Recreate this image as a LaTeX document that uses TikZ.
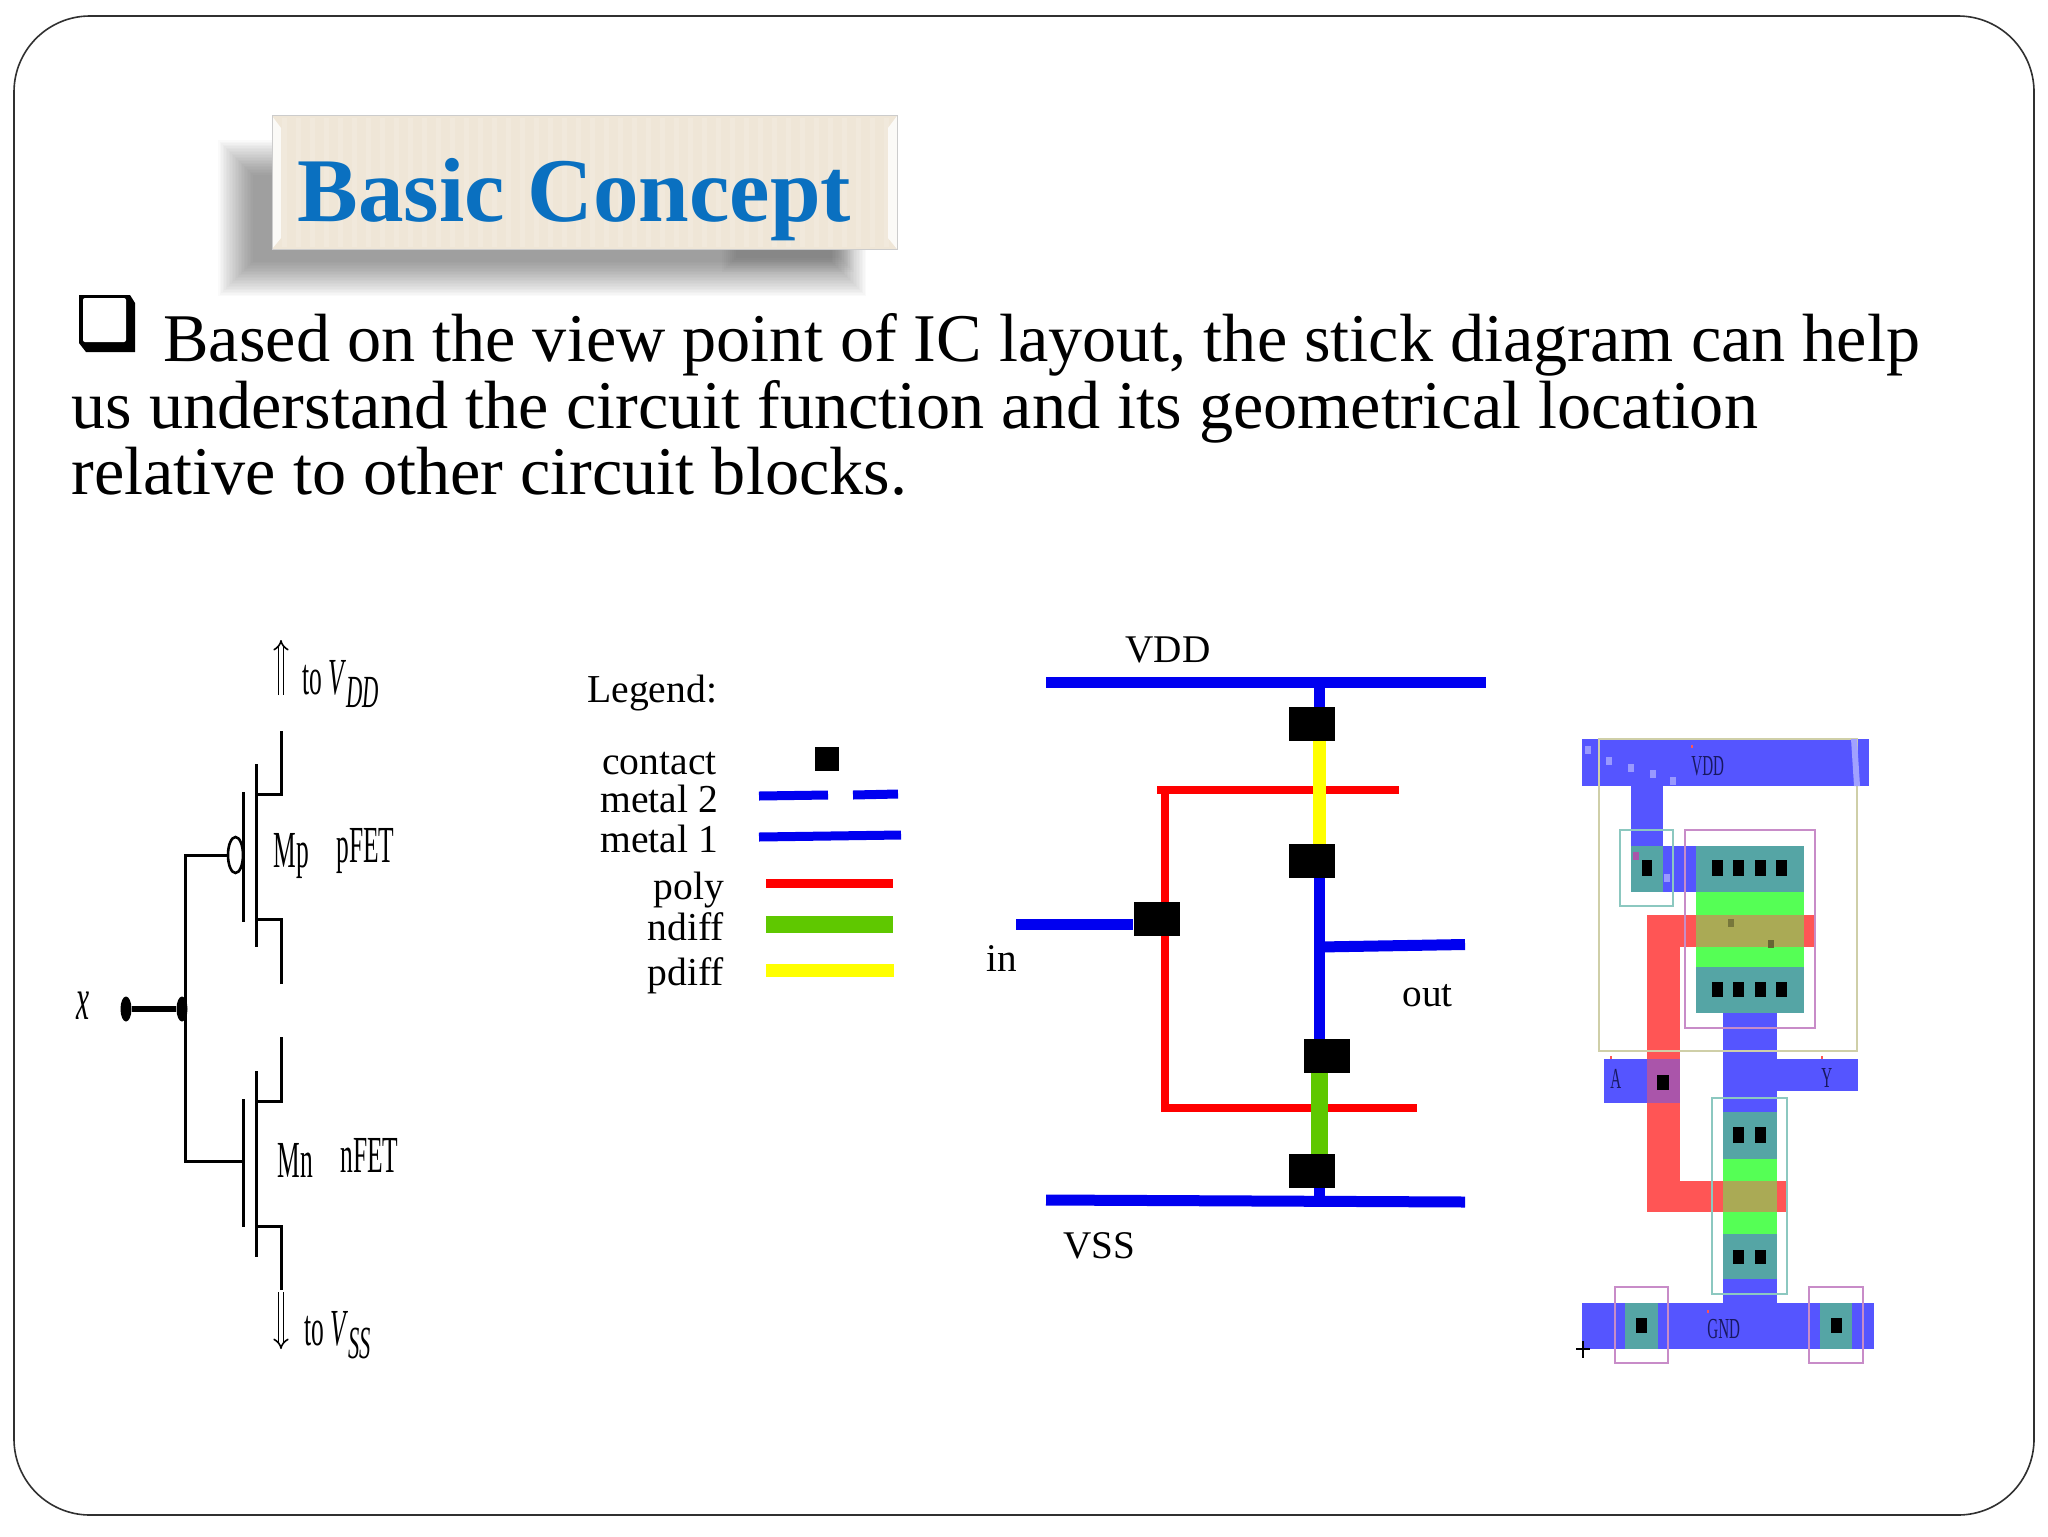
\documentclass[tikz,border=0pt]{standalone}
\usepackage{fontspec}
\setmainfont{Liberation Serif}
\newfontfamily\fetfont[FakeStretch=0.49]{Liberation Serif}
\newfontfamily\layfont[FakeStretch=0.52]{Liberation Serif}
\usetikzlibrary{arrows.meta,shapes.geometric}
\definecolor{framecol}{HTML}{303030}
\definecolor{titlecol}{HTML}{0A70C0}
\definecolor{boxcol}{HTML}{EFE6D7}
\definecolor{stickblue}{HTML}{0000F0}
\definecolor{stickred}{HTML}{FF0000}
\definecolor{stickgreen}{HTML}{5FC800}
\definecolor{stickyellow}{HTML}{FFFF00}
\definecolor{laymetal}{HTML}{5555FF}
\definecolor{laypoly}{HTML}{FF5555}
\definecolor{laydiff}{HTML}{55FF55}
\definecolor{laycut}{HTML}{55A5A5}
\definecolor{laygate}{HTML}{AAAA55}
\definecolor{laypin}{HTML}{AA55AA}
\definecolor{laywell}{HTML}{CFCFA8}
\definecolor{layteal}{HTML}{8CC8C0}
\definecolor{laypurple}{HTML}{C88CC8}
\definecolor{laytext}{HTML}{181860}
\tikzset{
	txt/.style={anchor=base west,inner sep=0pt,font=\fontsize{#1}{#1}\selectfont},
	fettxt/.style={anchor=base west,inner sep=0pt,font=\fontsize{26}{26}\selectfont\fetfont},
	laytxt/.style={anchor=base west,inner sep=0pt,text=laytext,font=\fontsize{14.5}{14.5}\selectfont\layfont},
	fetwire/.style={line width=1.5pt,black},
	fetdot/.style={ellipse,fill=black,inner sep=0pt,minimum width=5.5pt,minimum height=12.5pt},
	bubble/.style={ellipse,draw=black,fill=white,line width=1.3pt,inner sep=0pt,minimum width=7.5pt,minimum height=18pt},
	supply/.style={double,double distance=1.8pt,line width=.8pt,-{Implies}},
	metalline/.style={stickblue,line width=5.5pt},
	polyline/.style={stickred,line width=4.3pt},
	ndiffline/.style={stickgreen,line width=8.5pt},
	pdiffline/.style={stickyellow,line width=6.5pt},
	contactbox/.style={fill=black,inner sep=0pt,minimum width=23pt,minimum height=17pt},
	outline/.style={line width=.8pt},
}
\newcommand{\fetsub}[1]{\raisebox{-6.5pt}{\fontsize{23}{23}\selectfont\itshape #1}}
\begin{document}
\begin{tikzpicture}[x=0.5pt,y=-0.5pt]
	\useasboundingbox (0,0) rectangle (2048,1536);
	\draw[framecol,line width=.8pt,rounded corners=38pt] (14,16) rectangle (2034,1515);

	\foreach \i in {0,...,23}
		\fill[black,opacity=.019] ({218+1.5*\i},{140+1.5*\i}) rectangle ({866-1.5*\i},{296-1.5*\i});
	\foreach \i in {0,...,7}
		\fill[black,opacity=.018] ({722+2*\i},249) rectangle ({854-2*\i},{272-2*\i});
	\fill[boxcol] (272,116) rectangle (897,249);
	\foreach \i in {0,...,43}
		\fill[white,opacity=.14] ({282+14*\i},118) rectangle ({287+14*\i},247);
	\fill[white,opacity=.8] (272,116) -- (281,128) -- (281,238) -- (272,249) -- cycle;
	\fill[white,opacity=.8] (897,116) -- (888,128) -- (888,238) -- (897,249) -- cycle;
	\draw[black!20,line width=.5pt] (272,116) rectangle (897,249);
	\node[txt=45.5,text=titlecol,font=\fontsize{45.5}{45.5}\selectfont\bfseries] (title) at (297,221) {Basic Concept};

	\fill[black] (79,295) -- (130,295) -- (135,303) -- (135,352) -- (86,352) -- (79,343) -- cycle;
	\fill[white,rounded corners=1pt] (83,298) rectangle (126,342);
	\node[txt=34.12] (line1) at (163,361) {Based on the view point of IC layout, the stick diagram can help};
	\node[txt=34.12] (line2) at (71,428) {us understand the circuit function and its geometrical location};
	\node[txt=34.12] (line3) at (71,494) {relative to other circuit blocks.};

	\node[fettxt,font=\fontsize{30}{30}\selectfont\fetfont] (xlab) at (76,1019) {\itshape x};
	\node[fetdot] (xin) at (126,1009) {};
	\node[fetdot] (xjoin) at (182,1009) {};
	\node[bubble] (mpbub) at (235.5,855) {};
	\coordinate (mpgt) at (243,792);
	\coordinate (mpgb) at (243,922);
	\coordinate (mpct) at (256,764);
	\coordinate (mpcb) at (256,947);
	\coordinate (mpdt) at (281,731);
	\coordinate (mpdb) at (281,984);
	\coordinate (mpkt) at (281,794);
	\coordinate (mpkb) at (281,919);
	\coordinate (mngt) at (243,1099);
	\coordinate (mngb) at (243,1227);
	\coordinate (mngm) at (243,1161);
	\coordinate (mnct) at (256,1071);
	\coordinate (mncb) at (256,1257);
	\coordinate (mndt) at (281,1037);
	\coordinate (mndb) at (281,1290);
	\coordinate (mnkt) at (281,1101);
	\coordinate (mnkb) at (281,1226);
	\coordinate (gatebus) at (185,1009);
	\draw[fetwire,line width=2.6pt] (xin) -- (xjoin);
	\draw[fetwire] (mpbub.west) -| (gatebus) |- (mngm);
	\draw[fetwire] (mpgt) -- (mpgb);
	\draw[fetwire] (mpct) -- (mpcb);
	\draw[fetwire] (mpdt) -- (mpkt) -- (mpkt -| mpct);
	\draw[fetwire] (mpdb) -- (mpkb) -- (mpkb -| mpct);
	\draw[fetwire] (mngt) -- (mngb);
	\draw[fetwire] (mnct) -- (mncb);
	\draw[fetwire] (mndt) -- (mnkt) -- (mnkt -| mnct);
	\draw[fetwire] (mndb) -- (mnkb) -- (mnkb -| mnct);
	\coordinate (vddfrom) at (281,695);
	\coordinate (vddto) at (281,640);
	\coordinate (vssfrom) at (281,1292);
	\coordinate (vssto) at (281,1349);
	\draw[supply] (vddfrom) -- (vddto);
	\draw[supply] (vssfrom) -- (vssto);
	\node[fettxt] (tovdd) at (302,694) {to \textit{V}\fetsub{DD}};
	\node[fettxt] (tovss) at (304,1345) {to \textit{V}\fetsub{SS}};
	\node[fettxt] (mplab) at (273,867) {Mp};
	\node[fettxt] (pfetlab) at (336,862) {pFET};
	\node[fettxt] (mnlab) at (277,1177) {Mn};
	\node[fettxt] (nfetlab) at (340,1172) {nFET};

	\node[txt=19.8] (legend) at (587,702) {Legend:};
	\node[txt=19.8] (lcontact) at (602,774) {contact};
	\node[txt=19.8] (lmetaltwo) at (600,812) {metal 2};
	\node[txt=19.8] (lmetalone) at (600,852) {metal 1};
	\node[txt=19.8] (lpoly) at (653,899) {poly};
	\node[txt=19.8] (lndiff) at (647,940) {ndiff};
	\node[txt=19.8] (lpdiff) at (647,985) {pdiff};
	\fill[black] (815,747) rectangle (839,771);
	\draw[stickblue,line width=4.5pt] (759,796) -- (828,795);
	\draw[stickblue,line width=4.5pt] (853,795) -- (898,794);
	\draw[stickblue,line width=4.5pt] (759,837) -- (901,835);
	\draw[stickred,line width=4.5pt] (766,883) -- (893,883);
	\draw[stickgreen,line width=8.5pt] (766,924) -- (893,924);
	\draw[stickyellow,line width=6.5pt] (766,970) -- (894,970);

	\node[txt=19.6] (vddlab) at (1125,662) {VDD};
	\node[txt=19.6] (vsslab) at (1063,1258) {VSS};
	\node[txt=19.6] (inlab) at (986,971) {in};
	\node[txt=19.6] (outlab) at (1402,1006) {out};
	\coordinate (vddl) at (1046,682.5);
	\coordinate (vddr) at (1486,682.5);
	\coordinate (vssl) at (1046,1200);
	\coordinate (vssr) at (1465,1202);
	\coordinate (railtop) at (1319,682.5);
	\coordinate (railbot) at (1319,1200);
	\coordinate (inend) at (1016,924);
	\coordinate (outa) at (1319,947);
	\coordinate (outb) at (1465,944.5);
	\coordinate (ptopl) at (1157,790);
	\coordinate (ptopr) at (1399,790);
	\coordinate (pcorner) at (1165,790);
	\coordinate (pbend) at (1165,1108);
	\coordinate (pbotr) at (1417,1108);
	\node[contactbox] (cvdd) at (1312,723.5) {};
	\node[contactbox] (cmid) at (1312,861) {};
	\node[contactbox] (cout) at (1327,1056) {};
	\node[contactbox] (cvss) at (1312,1171) {};
	\node[contactbox] (cin) at (1156.5,918.5) {};
	\draw[metalline] (vddl) -- (vddr);
	\draw[metalline] (vssl) -- (vssr);
	\draw[metalline] (railtop) -- (railbot);
	\draw[metalline] (inend) -- (cin.west |- inend);
	\draw[metalline] (outa) -- (outb);
	\draw[polyline] (ptopl) -- (ptopr);
	\draw[polyline] (pcorner) -- (pbend) -- (pbotr);
	\draw[pdiffline] (cvdd.south -| railtop) -- (cmid.north -| railtop);
	\draw[ndiffline] (cout.south -| railtop) -- (cvss.north -| railtop);
	\node[contactbox] at (cvdd) {};
	\node[contactbox] at (cmid) {};
	\node[contactbox] at (cout) {};
	\node[contactbox] at (cvss) {};
	\node[contactbox] at (cin) {};

	\fill[laymetal] (1582,739) rectangle (1869,786);
	\fill[laymetal] (1631,786) rectangle (1663,892);
	\fill[laymetal] (1663,846) rectangle (1696,892);
	\fill[laymetal] (1723,1013) rectangle (1777,1303);
	\fill[laymetal] (1777,1059) rectangle (1858,1091);
	\fill[laymetal] (1604,1059) rectangle (1660,1103);
	\fill[laymetal] (1582,1303) rectangle (1874,1349);
	\fill[laypoly] (1647,915) rectangle (1816,947);
	\fill[laypoly] (1647,915) rectangle (1680,1212);
	\fill[laypoly] (1647,1181) rectangle (1788,1212);
	\fill[laydiff] (1696,892) rectangle (1804,967);
	\fill[laydiff] (1723,1159) rectangle (1777,1234);
	\fill[laygate] (1696,915) rectangle (1804,947);
	\fill[laygate] (1723,1181) rectangle (1777,1212);
	\fill[laypin] (1647,1059) rectangle (1680,1103);
	\fill[laycut] (1631,846) rectangle (1663,892);
	\fill[laycut] (1696,846) rectangle (1804,892);
	\fill[laycut] (1696,967) rectangle (1804,1013);
	\fill[laycut] (1723,1112) rectangle (1777,1159);
	\fill[laycut] (1723,1234) rectangle (1777,1279);
	\fill[laycut] (1625,1303) rectangle (1658,1349);
	\fill[laycut] (1820,1303) rectangle (1852,1349);
	\foreach \cx in {1712,1733,1755,1776} {
		\fill[black] (\cx,860) rectangle ({\cx+11},876);
		\fill[black] (\cx,982) rectangle ({\cx+11},997);
	}
	\foreach \cx in {1733,1755} {
		\fill[black] (\cx,1127) rectangle ({\cx+11},1143);
		\fill[black] (\cx,1250) rectangle ({\cx+11},1264);
	}
	\fill[black] (1642,860) rectangle (1652,876);
	\fill[black] (1657,1075) rectangle (1669,1090);
	\fill[black] (1636,1318) rectangle (1647,1333);
	\fill[black] (1831,1318) rectangle (1842,1333);
	\draw[laywell,outline] (1599,739) rectangle (1857,1051);
	\draw[layteal,outline] (1620,830) rectangle (1673,906);
	\draw[laypurple,outline] (1685,830) rectangle (1815,1028);
	\draw[layteal,outline] (1712,1098) rectangle (1787,1294);
	\draw[laypurple,outline] (1615,1287) rectangle (1668,1363);
	\draw[laypurple,outline] (1809,1287) rectangle (1863,1363);
	\foreach \sx/\sy in {1585/746,1606/757,1628/764,1650/770,1670/777}
		\fill[laymetal!60!white] (\sx,\sy) rectangle ({\sx+6},{\sy+8});
	\fill[laymetal!55!white] (1851,739) -- (1857,739) -- (1860,786) -- (1854,786) -- cycle;
	\fill[laygate!70!black] (1728,919) rectangle (1734,927);
	\fill[laygate!60!black] (1768,940) rectangle (1774,948);
	\fill[laypin] (1633,852) rectangle (1639,860);
	\fill[laymetal!60!white] (1664,874) rectangle (1670,882);
	\foreach \sx/\sy in {1691/745,1610/1056,1821/1056,1707/1310}
		\fill[laypoly] (\sx,\sy) rectangle ({\sx+2},{\sy+3});
	\draw[black,line width=.6pt] (1576,1349) -- (1590,1349);
	\draw[black,line width=.6pt] (1583,1341) -- (1583,1358);
	\node[laytxt] (layvdd) at (1691,775) {VDD};
	\node[laytxt] (layy) at (1821,1087) {Y};
	\node[laytxt] (laya) at (1610,1088) {A};
	\node[laytxt] (laygnd) at (1707,1338) {GND};
\end{tikzpicture}
\end{document}
